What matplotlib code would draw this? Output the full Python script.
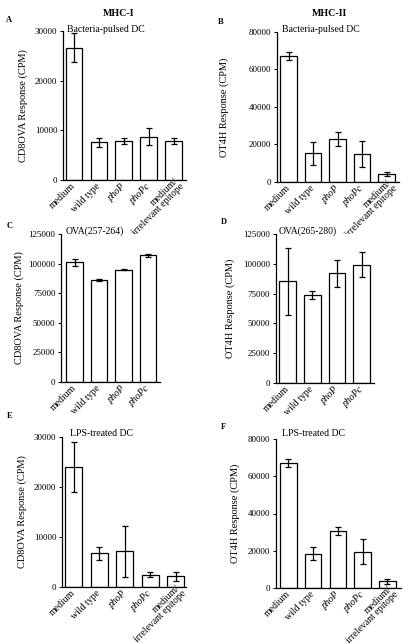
import matplotlib
matplotlib.use("Agg")
import matplotlib.pyplot as plt

plt.rcParams['font.family'] = ['Liberation Serif', 'DejaVu Serif']

# ------------------ data ------------------
labels5 = ['medium', 'wild type', 'phoP', 'phoPc', 'medium/\nirrelevant epitope']
labels4 = ['medium', 'wild type', 'phoP', 'phoPc']

# A: MHC-I, bacteria-pulsed DC
a_vals = [26600, 7600, 7800, 8700, 7800]
a_errs = [2900, 900, 600, 1700, 600]
# B: MHC-II, bacteria-pulsed DC
b_vals = [67200, 15200, 22900, 14900, 4300]
b_errs = [2300, 6000, 3700, 6800, 1200]
# C: MHC-I, OVA(257-264)
c_vals = [101000, 86000, 95000, 107000]
c_errs = [3000, 1100, 600, 1500]
# D: MHC-II, OVA(265-280)
d_vals = [85200, 73700, 91900, 99400]
d_errs = [28000, 3500, 11000, 10500]
# E: MHC-I, LPS-treated DC
e_vals = [24100, 6800, 7200, 2500, 2200]
e_errs = [5000, 1300, 5100, 450, 900]
# F: MHC-II, LPS-treated DC
f_vals = [67100, 18400, 30400, 19500, 3600]
f_errs = [2300, 3500, 2100, 6700, 1300]

W, H = 410, 644
fig = plt.figure(figsize=(W / 100, H / 100), dpi=100)

lab_kw = dict(rotation=45, ha='right', va='center', rotation_mode='anchor', fontsize=7.0)


def panel(box, xlim, vals, errs, labels, yticks, ylabel, sub, letter, letter_xy, sub_xy, ylab_x):
    left, right, top, bottom = box
    ax = fig.add_axes([left / W, 1 - bottom / H, (right - left) / W, (bottom - top) / H])
    x = list(range(len(vals)))
    ax.bar(x, vals, width=0.67, color='white', edgecolor='black', linewidth=0.9)
    ax.errorbar(x, vals, yerr=errs, fmt='none', ecolor='black', elinewidth=0.9,
                capsize=2.2, capthick=0.9)
    ax.set_xlim(*xlim)
    ax.set_ylim(0, yticks[-1])
    ax.set_yticks(yticks)
    ax.set_yticklabels([str(t) for t in yticks], fontsize=6.5)
    ax.tick_params(axis='y', length=2.5, width=0.7, pad=1.5)
    ax.set_xticks(x)
    tick_text = [l if '\n' not in l else '' for l in labels]
    ax.set_xticklabels(tick_text, **lab_kw)
    for t in ax.get_xticklabels():
        if t.get_text().startswith('pho'):
            t.set_style('italic')
    # two-line label sits a little up and right of its tick
    for xi, l in zip(x, labels):
        if '\n' in l:
            ax.annotate(l, xy=(xi, 0), xycoords=('data', 'axes fraction'),
                        xytext=(4.5, -1.5), textcoords='offset points',
                        multialignment='right', linespacing=0.85, **lab_kw)
    ax.tick_params(axis='x', length=0, pad=3.5)
    for s in ['top', 'right']:
        ax.spines[s].set_visible(False)
    for s in ['left', 'bottom']:
        ax.spines[s].set_linewidth(0.9)
    ax.set_ylabel(ylabel, fontsize=7.5)
    ax.yaxis.set_label_coords((ylab_x - left) / (right - left), 0.5)
    fig.text(sub_xy[0] / W, 1 - sub_xy[1] / H, sub, fontsize=7, va='center', ha='left')
    fig.text(letter_xy[0] / W, 1 - letter_xy[1] / H, letter, fontsize=6,
             fontweight='bold', va='center', ha='left')
    return ax


t30 = [0, 10000, 20000, 30000]
t80 = [0, 20000, 40000, 60000, 80000]
t125 = [0, 25000, 50000, 75000, 100000, 125000]

panel((63, 186, 31, 180), (-0.44, 4.5), a_vals, a_errs, labels5, t30,
      'CD8OVA Response (CPM)', 'Bacteria-pulsed DC', 'A', (6, 20), (67, 29), 28)
panel((277, 399, 32, 182), (-0.47, 4.51), b_vals, b_errs, labels5, t80,
      'OT4H Response (CPM)', 'Bacteria-pulsed DC', 'B', (218, 22), (282, 30), 229)
panel((61, 160, 234, 382), (-0.56, 3.49), c_vals, c_errs, labels4, t125,
      'CD8OVA Response (CPM)', 'OVA(257-264)', 'C', (7, 226), (66, 231), 24)
panel((275.5, 374, 234, 383), (-0.49, 3.5), d_vals, d_errs, labels4, t125,
      'OT4H Response (CPM)', 'OVA(265-280)', 'D', (221, 222), (279, 231), 235)
panel((62, 186.5, 437, 587), (-0.47, 4.43), e_vals, e_errs, labels5, t30,
      'CD8OVA Response (CPM)', 'LPS-treated DC', 'E', (7, 416), (70, 433), 27)
panel((276, 401, 439, 588), (-0.5, 4.55), f_vals, f_errs, labels5, t80,
      'OT4H Response (CPM)', 'LPS-treated DC', 'F', (221, 427), (282, 433), 240)

fig.text(119 / W, 1 - 14 / H, 'MHC-I', fontsize=7.2, fontweight='bold', ha='center', va='center')
fig.text(329 / W, 1 - 13 / H, 'MHC-II', fontsize=7.2, fontweight='bold', ha='center', va='center')

fig.savefig('out.png', dpi=100)
